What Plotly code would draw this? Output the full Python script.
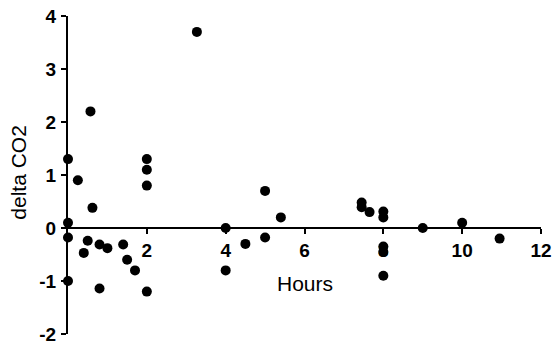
import plotly.graph_objects as go

hours = [0, 0, 0, 0, 0.25, 0.57, 0.62, 0.5, 0.4, 0.8, 0.8, 1.0, 1.4, 1.5, 1.7,
         2, 2, 2, 2, 3.27, 4, 4, 4.5, 5, 5, 5.4, 7.45, 7.45, 7.65, 8, 8, 8, 8, 8,
         9, 10, 10.95]
delta_co2 = [1.3, 0.1, -0.18, -1.0, 0.9, 2.2, 0.38, -0.24, -0.47, -0.31, -1.14, -0.38,
             -0.31, -0.6, -0.8, 1.3, 1.1, 0.8, -1.2, 3.7, 0.0, -0.8, -0.3, 0.7, -0.18,
             0.2, 0.48, 0.39, 0.3, 0.31, 0.2, -0.35, -0.45, -0.9, 0.0, 0.1, -0.2]

x_tickvals = [2, 4, 6, 8, 10, 12]
x_ticktext = ["2", "4", "6", "8", "10", "12"]
y_tickvals = [-2, -1, 0, 1, 2, 3, 4]
y_ticktext = ["-2", "-1", "0", "1", "2", "3", "4"]

tickfont = dict(family="Liberation Sans, Arial", size=19, weight="bold", color="black")
titlefont = dict(family="Liberation Sans, Arial", size=21, color="black")

fig = go.Figure()
fig.add_trace(go.Scatter(
    x=hours, y=delta_co2, mode="markers",
    marker=dict(color="black", size=10),
    cliponaxis=False, showlegend=False, hoverinfo="skip",
))

fig.update_layout(
    width=552, height=344,
    margin=dict(l=68, r=11, t=16, b=10, autoexpand=False),
    paper_bgcolor="white", plot_bgcolor="white",
    xaxis=dict(
        range=[0, 12], anchor="free", position=1/3, automargin=False,
        showline=True, linecolor="black", linewidth=2,
        ticks="outside", ticklen=5, tickwidth=2, tickcolor="black",
        tickvals=x_tickvals, ticktext=x_ticktext, tickfont=tickfont,
        ticklabelstandoff=0, ticklabeloverflow="allow",
        showgrid=False, zeroline=False, layer="below traces",
    ),
    yaxis=dict(
        range=[-2, 4], automargin=False,
        showline=True, linecolor="black", linewidth=2,
        ticks="outside", ticklen=5, tickwidth=2, tickcolor="black",
        tickvals=y_tickvals, ticktext=y_ticktext, tickfont=tickfont,
        ticklabelstandoff=1, ticklabeloverflow="allow",
        showgrid=False, zeroline=False, layer="below traces",
    ),
    annotations=[
        dict(text="Hours", x=6, y=-1.05, xref="x", yref="y", showarrow=False,
             font=titlefont, xanchor="center", yanchor="middle"),
        dict(text="delta CO2", x=-0.105, y=1.05, xref="paper", yref="y", showarrow=False,
             font=titlefont, textangle=-90, xanchor="center", yanchor="middle"),
    ],
)

fig.write_html(
    "out.html",
    config={"displayModeBar": False},
    post_script="document.body.style.margin='0';document.body.style.overflow='hidden';",
)
